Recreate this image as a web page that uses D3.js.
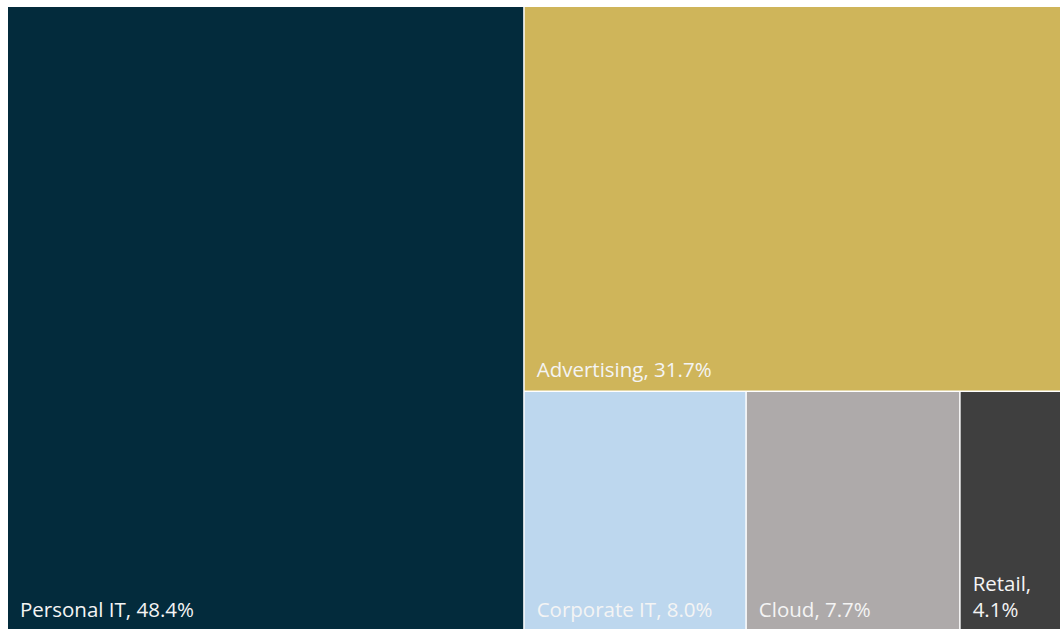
<!DOCTYPE html>
<html>
<head>
<meta charset="utf-8">
<script src="https://cdn.jsdelivr.net/npm/d3@7"></script>
<style>
  html, body { margin: 0; padding: 0; background: #ffffff; overflow: hidden; }
  svg { display: block; }
</style>
</head>
<body>
<div id="chart"></div>
<script>
// Revenue share by segment
const categories = ["Personal IT", "Advertising", "Corporate IT", "Cloud", "Retail"];
const shares = [48.4, 31.7, 8.0, 7.7, 4.1];
const colors = ["#032b3c", "#cfb55a", "#bdd7ee", "#aeaaaa", "#3f3f3f"];

const width = 1060, height = 629;
// plot area runs slightly past the right and bottom edges of the page
const area = { x0: 8, y0: 7, x1: 1073, y1: 631 };

const svg = d3.select("#chart").append("svg")
  .attr("width", width).attr("height", height);

// the largest segment fills a full-height column; the rest stack to its right
const leaf = i => ({ name: categories[i], value: shares[i], color: colors[i] });
const tree = {
  children: [
    leaf(0),
    { children: [leaf(1), { children: [leaf(2), leaf(3), leaf(4)] }] }
  ]
};

const root = d3.hierarchy(tree).sum(d => d.value || 0);

d3.treemap()
  .tile(d3.treemapSliceDice)
  .size([area.x1 - area.x0, area.y1 - area.y0])
  .paddingInner(1.5)
  .round(false)(root);

const g = svg.append("g").attr("transform", `translate(${area.x0},${area.y0})`);

const cells = g.selectAll("g.cell")
  .data(root.leaves())
  .join("g")
  .attr("class", "cell")
  .attr("transform", d => `translate(${d.x0},${d.y0})`);

cells.append("rect")
  .attr("width", d => d.x1 - d.x0)
  .attr("height", d => d.y1 - d.y0)
  .attr("fill", d => d.data.color);

const fontSize = 20.5;
const padX = 12, padBottom = 14, lineH = 25.5;

cells.each(function (d) {
  const cell = d3.select(this);
  const w = d.x1 - d.x0, h = d.y1 - d.y0;
  const full = `${d.data.name}, ${d3.format(".1f")(d.data.value)}%`;
  const text = cell.append("text")
    .attr("font-family", "'Open Sans', sans-serif")
    .attr("font-size", fontSize)
    .attr("fill", "#f4f4f4");
  // wrap at the comma when the label does not fit on one line
  text.text(full);
  let lines = [full];
  if (text.node().getComputedTextLength() > w - 2 * padX) {
    lines = [`${d.data.name},`, `${d3.format(".1f")(d.data.value)}%`];
  }
  text.text(null);
  lines.forEach((ln, i) => {
    text.append("tspan")
      .attr("x", padX)
      .attr("y", h - padBottom - (lines.length - 1 - i) * lineH)
      .text(ln);
  });
});
</script>
</body>
</html>
